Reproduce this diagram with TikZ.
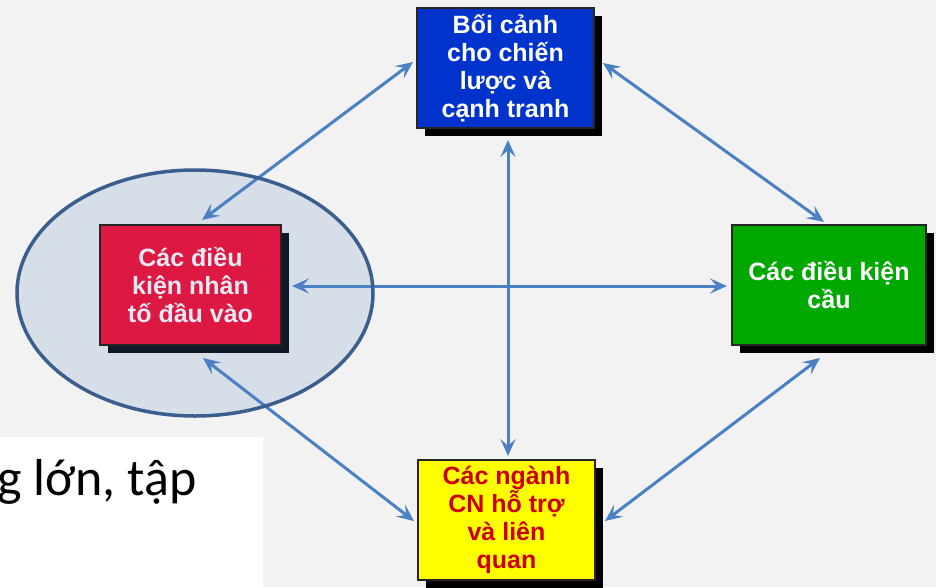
\documentclass[tikz,border=0pt]{standalone}
\usepackage{fontspec}
\setmainfont{Liberation Sans}
\newfontfamily\calib{Carlito}
\usetikzlibrary{arrows.meta,shadows}
\definecolor{bgc}{HTML}{F2F2F2}
\definecolor{arrc}{HTML}{4A80C4}
\definecolor{ellf}{HTML}{D6DEE8}
\definecolor{elld}{HTML}{3A5F8F}
\definecolor{bluef}{HTML}{0033CC}
\definecolor{redf}{HTML}{DC1843}
\definecolor{greenf}{HTML}{00A800}
\definecolor{yellowf}{HTML}{FFFF00}
\definecolor{redtxt}{HTML}{CC0000}
\definecolor{navysh}{HTML}{111827}
\definecolor{lighttxt}{HTML}{E8E9F2}
\tikzset{
  boxnode/.style={draw=black!85, line width=1.3pt, minimum height=120pt, align=center,
    font=\fontsize{25}{27.8}\selectfont\bfseries, inner sep=2pt},
  shblack/.style={drop shadow={shadow xshift=8pt, shadow yshift=-8pt, fill=black, opacity=1}},
  shnavy/.style={drop shadow={shadow xshift=8pt, shadow yshift=-8pt, fill=navysh, opacity=1}},
  link/.style={draw=arrc, line width=3pt, {Stealth[length=17pt,width=15pt,inset=7pt]}-{Stealth[length=17pt,width=15pt,inset=7pt]}}
}
\begin{document}
\begin{tikzpicture}[x=1pt,y=-1pt]
\fill[bgc] (0,0) rectangle (936,587);
\useasboundingbox (0,0) rectangle (936,587);
% white text panel
\fill[white] (0,437) rectangle (263,587);
\node[anchor=base west, inner sep=0pt, font=\calib\fontsize{52}{56}\selectfont] (big) at (-3,495) {g lớn, tập};
% ellipse fill
\fill[ellf] (195,293) ellipse [x radius=178, y radius=123];
% boxes
\node[boxnode, shblack, fill=bluef, text=white, minimum width=177pt] (blue) at (505.5,68) {Bối cảnh\\cho chiến\\lược và\\cạnh tranh};
\node[boxnode, shnavy, fill=redf, text=lighttxt, minimum width=181pt] (red) at (190.5,285) {Các điều\\kiện nhân\\tố đầu vào};
\node[boxnode, shblack, fill=greenf, text=white, minimum width=194pt] (green) at (829,285) {Các điều kiện\\cầu};
\node[boxnode, shblack, fill=yellowf, text=redtxt, minimum width=177pt] (yellow) at (506.5,520) {Các ngành\\CN hỗ trợ\\và liên\\quan};
% connector end points
\coordinate (bR) at (413,62);  \coordinate (rB) at (202,220);
\coordinate (bG) at (603,63);  \coordinate (gB) at (824,222);
\coordinate (gY) at (820,358); \coordinate (yG) at (605,521);
\coordinate (rY) at (203,358); \coordinate (yR) at (414,521);
\coordinate (bY) at (508,140); \coordinate (yB) at (508,456);
\coordinate (rG) at (292,286); \coordinate (gR) at (727,286);
\draw[link] (bR) -- (rB);
\draw[link] (bG) -- (gB);
\draw[link] (gY) -- (yG);
\draw[link] (rY) -- (yR);
\draw[link] (bY) -- (yB);
\draw[link] (rG) -- (gR);
% ellipse outline on top
\draw[elld, line width=3.5pt] (195,293) ellipse [x radius=178, y radius=123];
\end{tikzpicture}
\end{document}
